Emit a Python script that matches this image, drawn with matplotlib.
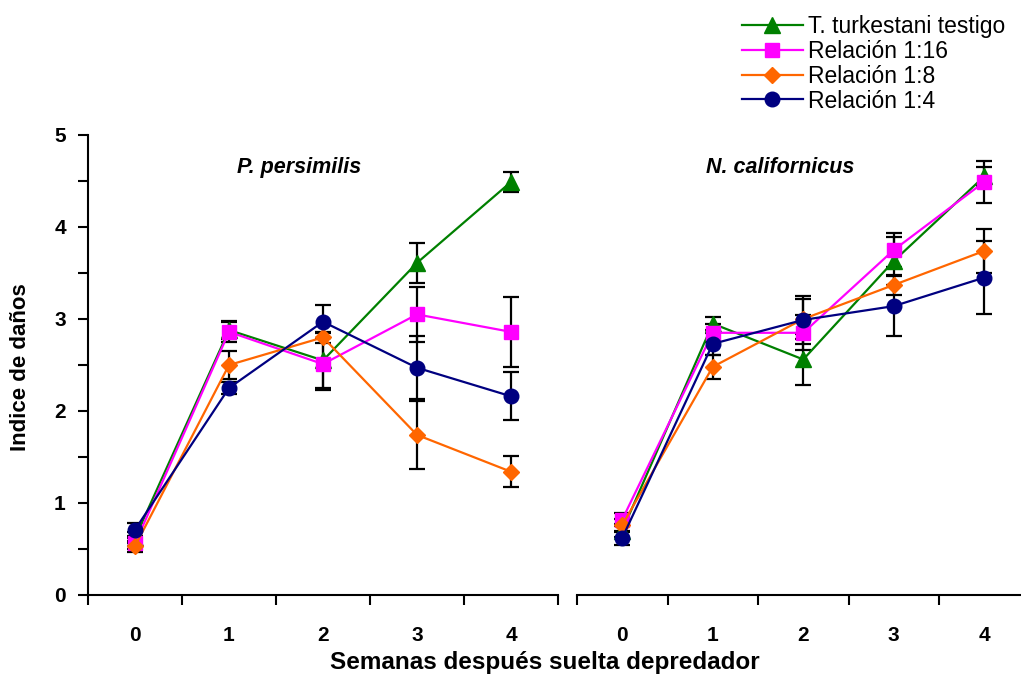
import matplotlib.pyplot as plt
from matplotlib.lines import Line2D
from matplotlib.ticker import MultipleLocator, FixedLocator
import numpy as np

plt.rcParams['font.family'] = ['Liberation Sans', 'DejaVu Sans']

semanas = [0, 1, 2, 3, 4]

# P. persimilis
pp_testigo = [0.62, 2.88, 2.55, 3.61, 4.49]
pp_testigo_err = [0.06, 0.10, 0.30, 0.22, 0.11]
pp_16 = [0.56, 2.86, 2.51, 3.05, 2.86]
pp_16_err = [0.06, 0.11, 0.28, 0.30, 0.38]
pp_8 = [0.53, 2.50, 2.80, 1.74, 1.34]
pp_8_err = [0.06, 0.15, 0.06, 0.37, 0.17]
pp_4 = [0.71, 2.25, 2.97, 2.47, 2.16]
pp_4_err = [0.07, 0.07, 0.18, 0.34, 0.26]

# N. californicus
nc_testigo = [0.70, 2.95, 2.56, 3.63, 4.55]
nc_testigo_err = [0.07, 0.07, 0.28, 0.26, 0.10]
nc_16 = [0.82, 2.85, 2.85, 3.75, 4.49]
nc_16_err = [0.07, 0.10, 0.19, 0.18, 0.23]
nc_8 = [0.76, 2.48, 3.00, 3.37, 3.74]
nc_8_err = [0.07, 0.13, 0.22, 0.11, 0.24]
nc_4 = [0.62, 2.73, 2.99, 3.14, 3.45]
nc_4_err = [0.08, 0.12, 0.26, 0.33, 0.40]

etiquetas = ['T. turkestani testigo', 'Relación 1:16', 'Relación 1:8', 'Relación 1:4']
colores = ['#008000', '#FF00FF', '#FF6600', '#000080']
marcadores = ['^', 's', 'D', 'o']
tamanos = [11, 10, 8.5, 10.5]

fig = plt.figure(figsize=(10.21, 6.77), dpi=100)
ax1 = fig.add_axes([88/1021, 1-595/677, 470/1021, 460/677])
ax2 = fig.add_axes([577/1021, 1-595/677, 452.5/1021, 460/677])

paneles = [
    (ax1, 'P. persimilis', [pp_testigo, pp_16, pp_8, pp_4],
     [pp_testigo_err, pp_16_err, pp_8_err, pp_4_err]),
    (ax2, 'N. californicus', [nc_testigo, nc_16, nc_8, nc_4],
     [nc_testigo_err, nc_16_err, nc_8_err, nc_4_err]),
]

for ax, titulo, series, errores in paneles:
    # barras de error en negro debajo de las lineas
    for y, e in zip(series, errores):
        ax.errorbar(semanas, y, yerr=e, fmt='none', ecolor='black',
                    elinewidth=1.6, capsize=6, capthick=1.6, zorder=2)
    for y, c, m, s in zip(series, colores, marcadores, tamanos):
        ax.plot(semanas, y, color=c, marker=m, markersize=s, lw=1.6, zorder=3)
    ax.set_xlim(-0.5, 4.5)
    ax.set_ylim(0, 5)
    # marcas entre semanas, etiquetas centradas en cada semana
    ax.xaxis.set_major_locator(FixedLocator(np.arange(-0.5, 5, 1)))
    ax.xaxis.set_minor_locator(FixedLocator(semanas))
    ax.set_xticklabels([])
    ax.set_xticklabels([str(s) for s in semanas], minor=True)
    ax.tick_params(axis='x', which='major', direction='out', length=7, width=1.5)
    ax.tick_params(axis='x', which='minor', length=0, pad=22, labelsize=15)
    for lab in ax.get_xticklabels(minor=True):
        lab.set_fontweight('bold')
    ax.spines['top'].set_visible(False)
    ax.spines['right'].set_visible(False)
    ax.spines['bottom'].set_linewidth(1.5)
    ax.text(0.45, 0.93, titulo, transform=ax.transAxes, ha='center', va='center',
            fontsize=15.5, fontweight='bold', fontstyle='italic')

ax1.spines['left'].set_linewidth(1.5)
ax1.yaxis.set_major_locator(MultipleLocator(1))
ax1.yaxis.set_minor_locator(MultipleLocator(0.5))
ax1.tick_params(axis='y', which='both', direction='out', length=7, width=1.5,
                labelsize=15, pad=9)
for lab in ax1.get_yticklabels():
    lab.set_fontweight('bold')

ax2.spines['left'].set_visible(False)
ax2.set_yticks([])

fig.text(20/1021, 1-367/677, 'Indice de daños', rotation=90, ha='center', va='center',
         fontsize=16, fontweight='bold')
fig.text(545/1021, 1-663/677, 'Semanas después suelta depredador', ha='center', va='center',
         fontsize=17.5, fontweight='bold')

manejadores = [Line2D([], [], color=c, marker=m, markersize=s, lw=1.6)
               for c, m, s in zip(colores, marcadores, tamanos)]
fig.legend(manejadores, etiquetas, loc='upper left', bbox_to_anchor=(742/1021, 1-15/677),
           frameon=False, fontsize=16.5, handlelength=2.65, handletextpad=0.22,
           labelspacing=0.08, borderaxespad=0, borderpad=0)

fig.savefig('out.png', dpi=100)
